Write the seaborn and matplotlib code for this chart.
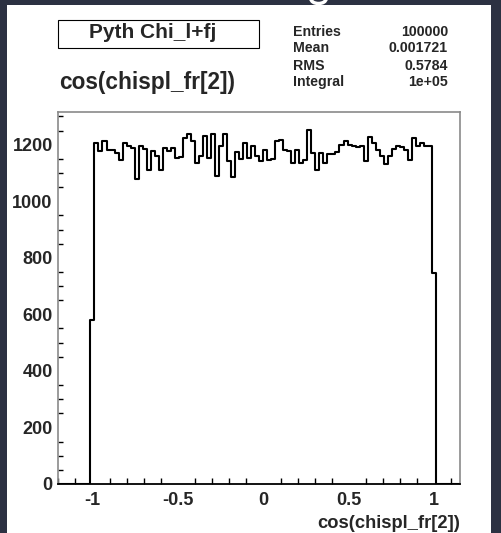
import numpy as np
import pandas as pd
import matplotlib
matplotlib.use("Agg")
import matplotlib.pyplot as plt
from matplotlib.patches import Rectangle, Arc
from matplotlib.ticker import MultipleLocator
import seaborn as sns

# Histogram definition: 100 bins on [-1.2, 1.15]; non-empty bins start at index 8
hist_range = (-1.2, 1.15)
n_bins = 100
first_filled_bin = 8
counts = [
    580, 1206, 1176, 1212, 1180, 1180, 1171, 1145, 1206, 1194,
    1190, 1079, 1194, 1185, 1112, 1176, 1159, 1110, 1188, 1176,
    1188, 1153, 1156, 1224, 1239, 1212, 1135, 1161, 1232, 1153,
    1239, 1088, 1194, 1239, 1141, 1086, 1173, 1149, 1206, 1153,
    1194, 1159, 1141, 1182, 1147, 1149, 1212, 1218, 1182, 1176,
    1135, 1182, 1135, 1147, 1253, 1171, 1112, 1171, 1135, 1168,
    1168, 1173, 1200, 1212, 1200, 1194, 1192, 1194, 1141, 1229,
    1206, 1182, 1161, 1133, 1159, 1185, 1194, 1192, 1182, 1145,
    1224, 1194, 1206, 1194, 1194, 747,
]

hist_title = "Pyth Chi_l+fj"
var_name = "cos(chispl_fr[2])"
stat_names = ["Entries", "Mean", "RMS", "Integral"]
stat_values = ["100000", "0.001721", "0.5784", "1e+05"]
x_ticks = [-1, -0.5, 0, 0.5, 1]
x_tick_labels = ["-1", "-0.5", "0", "0.5", "1"]
y_ticks = [0, 200, 400, 600, 800, 1000, 1200]

sns.set_style("white")
plt.rcParams["font.family"] = ["Liberation Sans", "DejaVu Sans"]
plt.rcParams["font.weight"] = "bold"

edges = np.linspace(hist_range[0], hist_range[1], n_bins + 1)
centers = 0.5 * (edges[:-1] + edges[1:])
weights = np.zeros(n_bins)
weights[first_filled_bin:first_filled_bin + len(counts)] = counts
df = pd.DataFrame({"x": centers, "w": weights})

W, H = 502, 533
fig = plt.figure(figsize=(W / 100, H / 100), dpi=100)
fig.patch.set_facecolor("#2c3142")
# white canvas panel behind everything
fig.patches.append(Rectangle((7 / W, 0), (491 - 7) / W, (H - 5) / H,
                             transform=fig.transFigure, facecolor="white",
                             edgecolor="none", zorder=-10))
# descender stroke of the slide heading above the canvas
fig.patches.append(Arc((318.5 / W, 1 + 1 / H), 15 / W, 9 / H, theta1=180,
                       theta2=360, transform=fig.transFigure, color="white",
                       linewidth=2.5, zorder=-5))

ax = fig.add_axes([58.3 / W, (H - 484) / H, 401.7 / W, 372 / H])
ax.set_facecolor("white")

sns.histplot(data=df, x="x", weights="w", bins=edges.tolist(), element="step",
             fill=False, color="black", linewidth=1.5, ax=ax)

ax.set_xlim(*hist_range)
ax.set_ylim(0, max(counts) * 1.05)

ax.set_xticks(x_ticks)
ax.set_xticklabels(x_tick_labels)
ax.set_yticks(y_ticks)
ax.set_yticklabels([str(v) for v in y_ticks])
ax.xaxis.set_minor_locator(MultipleLocator(0.1))
ax.yaxis.set_minor_locator(MultipleLocator(50))
ax.tick_params(axis="x", which="major", direction="in", length=8.5, width=1,
               color="black", labelsize=13, pad=6, top=False)
ax.tick_params(axis="x", which="minor", direction="in", length=4.3, width=1,
               color="black", top=False, bottom=True)
ax.tick_params(axis="y", which="major", direction="in", length=7, width=1,
               color="black", labelsize=13, pad=4, right=False)
ax.tick_params(axis="y", which="minor", direction="in", length=3.6, width=1,
               color="black", right=False, left=True)
for lbl in ax.get_xticklabels() + ax.get_yticklabels():
    lbl.set_fontweight("bold")

ax.set_ylabel("")
ax.set_xlabel(var_name, loc="right", fontsize=13.2, fontweight="bold", labelpad=4)

for side in ["top", "right", "left"]:
    ax.spines[side].set_color("#8a8a8a")
    ax.spines[side].set_linewidth(1.2)
ax.spines["bottom"].set_color("black")
ax.spines["bottom"].set_linewidth(1.3)

# title box
fig.patches.append(Rectangle((58 / W, 1 - 48 / H), 201 / W, 28 / H,
                             transform=fig.transFigure, facecolor="white",
                             edgecolor="black", linewidth=0.8, zorder=2))
fig.text(153 / W, 1 - 33 / H, hist_title, fontsize=15, fontweight="bold",
         ha="center", va="center", zorder=3)
fig.text(147 / W, 1 - 82 / H, var_name, fontsize=16.3, fontweight="bold",
         ha="center", va="center")

# statistics block
stat_y = [32, 48, 66, 82]
for name, val, yy in zip(stat_names, stat_values, stat_y):
    fig.text(293 / W, 1 - yy / H, name, fontsize=10.2, fontweight="bold",
             ha="left", va="center")
    fig.text(448 / W, 1 - yy / H, val, fontsize=10.2, fontweight="bold",
             ha="right", va="center")

fig.savefig("out.png", dpi=100, facecolor=fig.get_facecolor())
